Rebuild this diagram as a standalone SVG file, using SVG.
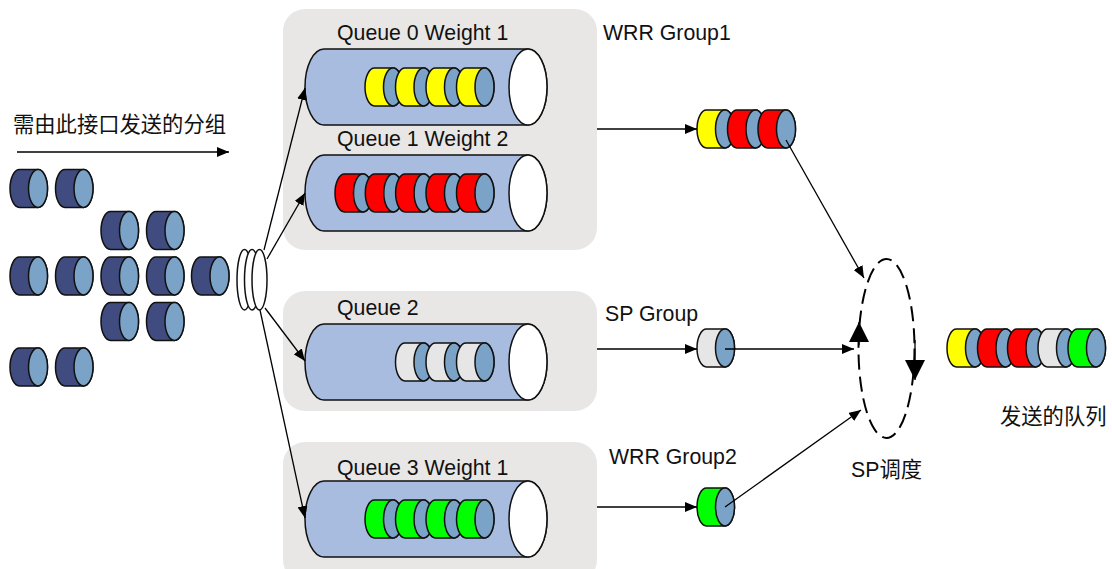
<svg xmlns="http://www.w3.org/2000/svg" xmlns:xlink="http://www.w3.org/1999/xlink" width="1112" height="569" viewBox="0 0 1112 569">
<style>
text{font-family:"Liberation Sans","Noto Sans CJK SC",sans-serif;font-size:21.3px;fill:#111}
.p{fill:#e8e7e5}
.o{stroke:#111;stroke-width:1.5}
.l{stroke:#000;stroke-width:1.3;fill:none}
.y{fill:#ff0}.r{fill:#f00}.w{fill:#e6e6e6}.g{fill:#0f0}.n{fill:#404c7f}
</style>
<defs>
<marker id="a" viewBox="0 0 12 10" refX="12" refY="5" markerWidth="12" markerHeight="10" markerUnits="userSpaceOnUse" orient="auto"><path d="M0 0L12 5L0 10Z" fill="#000"/></marker>
<marker id="b" viewBox="0 0 20 20" refX="20" refY="10" markerWidth="20" markerHeight="20" markerUnits="userSpaceOnUse" orient="auto"><path d="M0 0L20 10L0 20Z" fill="#000"/></marker>
<g id="c"><path class="o" d="M9.5 0H28A9.5 19 0 0 1 28 38H9.5A9.5 19 0 0 1 9.5 0Z"/><ellipse class="o" cx="28" cy="19" rx="9.5" ry="19" fill="#7ba3c8"/></g>
<g id="t"><path class="o" fill="#a8bcdf" d="M319 0H523A19 38 0 0 1 523 76H319A19 38 0 0 1 319 0Z"/><ellipse class="o" cx="523" cy="38" rx="19" ry="38" fill="#fff"/></g>
</defs>
<g id="panels">
<rect class="p" x="283" y="9" width="314" height="241" rx="22"/>
<rect class="p" x="283" y="291" width="314" height="120" rx="22"/>
<rect class="p" x="283" y="442" width="314" height="140" rx="22"/>
</g>
<g id="packets-in" class="n">
<use href="#c" x="10" y="169.5"/><use href="#c" x="55.5" y="169.5"/>
<use href="#c" x="101" y="211.5"/><use href="#c" x="146.5" y="211.5"/>
<use href="#c" x="10" y="257"/><use href="#c" x="55.5" y="257"/><use href="#c" x="101" y="257"/><use href="#c" x="146.5" y="257"/><use href="#c" x="191.5" y="257"/>
<use href="#c" x="101" y="302.5"/><use href="#c" x="146.5" y="302.5"/>
<use href="#c" x="10" y="348"/><use href="#c" x="55.5" y="348"/>
</g>
<g id="classifier" fill="#fff">
<ellipse class="o" cx="244.5" cy="279.7" rx="7.5" ry="30.3"/>
<ellipse class="o" cx="252" cy="279.7" rx="7.5" ry="30.3"/>
<ellipse class="o" cx="259.5" cy="279.7" rx="7.5" ry="30.3"/>
</g>
<g id="queue0"><use href="#t" x="5" y="49"/>
<g class="y"><use href="#c" x="365" y="68"/><use href="#c" x="395.5" y="68"/><use href="#c" x="426" y="68"/><use href="#c" x="456.5" y="68"/></g>
<text x="337" y="40">Queue 0 Weight 1</text></g>
<g id="queue1"><use href="#t" x="5" y="155"/>
<g class="r"><use href="#c" x="335" y="174"/><use href="#c" x="365.3" y="174"/><use href="#c" x="395.6" y="174"/><use href="#c" x="426" y="174"/><use href="#c" x="456.5" y="174"/></g>
<text x="337" y="146">Queue 1 Weight 2</text></g>
<g id="queue2"><use href="#t" x="5" y="324"/>
<g class="w"><use href="#c" x="395.5" y="343"/><use href="#c" x="426" y="343"/><use href="#c" x="456.5" y="343"/></g>
<text x="337" y="315">Queue 2</text></g>
<g id="queue3"><use href="#t" x="5" y="481"/>
<g class="g"><use href="#c" x="365" y="500"/><use href="#c" x="395.5" y="500"/><use href="#c" x="426" y="500"/><use href="#c" x="456.5" y="500"/></g>
<text x="337" y="475">Queue 3 Weight 1</text></g>
<g id="group1"><use class="y" href="#c" x="697" y="110"/><use class="r" href="#c" x="727.5" y="110"/><use class="r" href="#c" x="758" y="110"/>
<text x="603" y="40">WRR Group1</text></g>
<g id="group-sp"><use class="w" href="#c" x="697" y="329"/><text x="605" y="321">SP Group</text></g>
<g id="group2"><use class="g" href="#c" x="697" y="488"/><text x="609" y="464">WRR Group2</text></g>
<g id="output"><use class="y" href="#c" x="947" y="329"/><use class="r" href="#c" x="977.5" y="329"/><use class="r" href="#c" x="1007.5" y="329"/><use class="w" href="#c" x="1038" y="329"/><use class="g" href="#c" x="1068" y="329"/>
<text x="1000" y="424">发送的队列</text></g>
<g id="scheduler"><ellipse cx="886.5" cy="348.5" rx="28" ry="89.5" fill="none" stroke="#000" stroke-width="2" stroke-dasharray="15 7"/>
<text x="851" y="477">SP调度</text></g>
<g id="connectors">
<path class="l" d="M17 152H229" marker-end="url(#a)"/>
<path class="l" d="M264 250L305 88" marker-end="url(#a)"/>
<path class="l" d="M267 259L305 193" marker-end="url(#a)"/>
<path class="l" d="M265 308L305 361" marker-end="url(#a)"/>
<path class="l" d="M260 310L305 518" marker-end="url(#a)"/>
<path class="l" d="M597 129H697" marker-end="url(#a)"/>
<path class="l" d="M597 349H697" marker-end="url(#a)"/>
<path class="l" d="M597 507H697" marker-end="url(#a)"/>
<path class="l" d="M786 140L864 278" marker-end="url(#a)"/>
<path class="l" d="M725 349H854" marker-end="url(#a)"/>
<path class="l" d="M725 507L861 410" marker-end="url(#a)"/>
<path class="l" d="M859 345V322" marker-end="url(#b)"/>
<path class="l" d="M915 340V380" marker-end="url(#b)"/>
</g>
<text x="13" y="132">需由此接口发送的分组</text>
</svg>
